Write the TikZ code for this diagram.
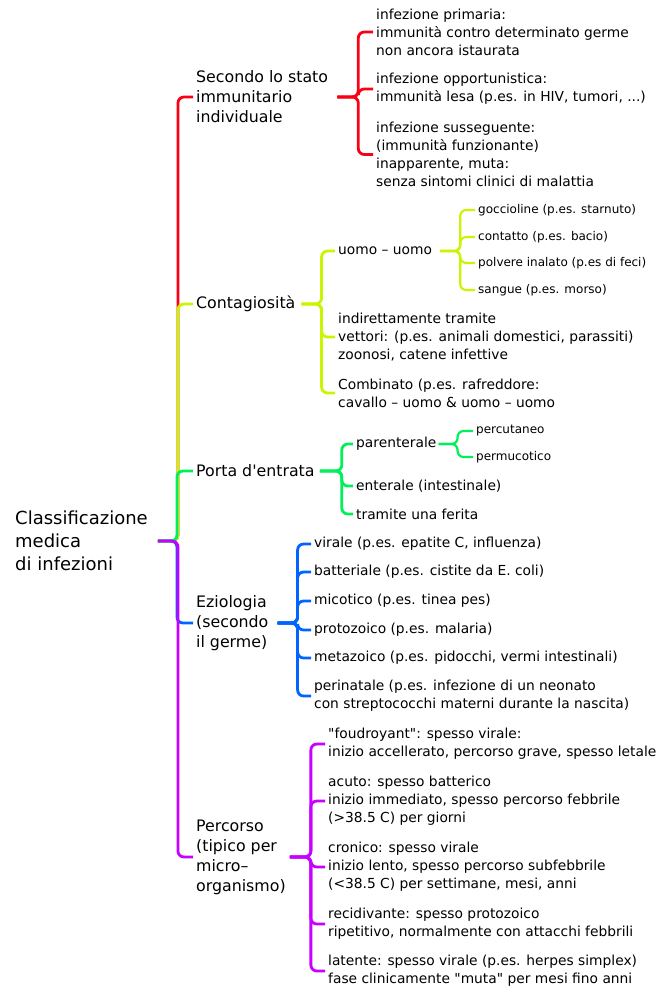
\documentclass[tikz,border=0pt]{standalone}
\usepackage{fontspec}
\setmainfont{DejaVu Sans}[Ligatures=TeXOff]
\definecolor{mmred}{RGB}{250,0,20}
\definecolor{mmyellow}{RGB}{200,245,0}
\definecolor{mmgreen}{RGB}{0,240,90}
\definecolor{mmblue}{RGB}{0,100,255}
\definecolor{mmpurple}{RGB}{200,0,255}

\begin{document}
\begin{tikzpicture}[x=1pt,y=-1pt,
	every node/.style={inner sep=0pt,anchor=west,align=left},
	rootnode/.style={font=\fontsize{18}{23}\selectfont},
	topic/.style={font=\fontsize{15.8}{20}\selectfont},
	subtopic/.style={font=\fontsize{13.8}{18}\selectfont},
	leaf/.style={font=\fontsize{12}{14}\selectfont},
	arc/.style={line width=2.8pt,rounded corners=6pt}]
	
	\useasboundingbox (0,0) rectangle (662,989);
	
	% Draw nodes, main topics
	\node[rootnode] (cls) at (15,541) {Classificazione\\medica\\di infezioni};
	\node[topic] (imm) at (196,97) {Secondo lo stato\\immunitario\\individuale};
	\node[topic] (cont) at (196,304) {Contagiosità};
	\node[topic] (porta) at (196,471) {Porta d'entrata};
	\node[topic] (ezio) at (196,623) {Eziologia\\(secondo\\il germe)};
	\node[topic] (perc) at (196,857) {Percorso\\(tipico per\\micro–\\organismo)};
	
	% Draw nodes, immune state
	\node[subtopic] (prim) at (376,32) {infezione primaria:\\immunità contro determinato germe\\non ancora istaurata};
	\node[subtopic] (opp) at (376,89) {infezione opportunistica:\\immunità lesa (p.es. in HIV, tumori, ...)};
	\node[subtopic] (suss) at (376,154.5) {infezione susseguente:\\(immunità funzionante)\\inapparente, muta:\\senza sintomi clinici di malattia};
	
	% Draw nodes, contagiousness
	\node[subtopic] (uomo) at (338,251) {uomo – uomo};
	\node[subtopic] (indir) at (338,337) {indirettamente tramite\\vettori: (p.es. animali domestici, parassiti)\\zoonosi, catene infettive};
	\node[subtopic] (comb) at (338,393) {Combinato (p.es. rafreddore:\\cavallo – uomo \& uomo – uomo};
	\node[leaf] (gocc) at (478,210) {goccioline (p.es. starnuto)};
	\node[leaf] (bacio) at (478,237) {contatto (p.es. bacio)};
	\node[leaf] (polv) at (478,263) {polvere inalato (p.es di feci)};
	\node[leaf] (sang) at (478,290) {sangue (p.es. morso)};
	
	% Draw nodes, portal of entry
	\node[subtopic] (par) at (356,444) {parenterale};
	\node[subtopic] (ent) at (356,486) {enterale (intestinale)};
	\node[subtopic] (fer) at (356,514) {tramite una ferita};
	\node[leaf] (pcut) at (476,431) {percutaneo};
	\node[leaf] (pmuc) at (476,457) {permucotico};
	
	% Draw nodes, etiology
	\node[subtopic] (vir) at (314,544) {virale (p.es. epatite C, influenza)};
	\node[subtopic] (batt) at (314,572) {batteriale (p.es. cistite da E. coli)};
	\node[subtopic] (mic) at (314,601) {micotico (p.es. tinea pes)};
	\node[subtopic] (proto) at (314,630) {protozoico (p.es. malaria)};
	\node[subtopic] (meta) at (314,658) {metazoico (p.es. pidocchi, vermi intestinali)};
	\node[subtopic] (peri) at (314,696) {perinatale (p.es. infezione di un neonato\\con streptococchi materni durante la nascita)};
	
	% Draw nodes, course
	\node[subtopic] (foud) at (328,744) {"foudroyant": spesso virale:\\inizio accellerato, percorso grave, spesso letale};
	\node[subtopic] (acu) at (328,801) {acuto: spesso batterico\\inizio immediato, spesso percorso febbrile\\(>38.5 C) per giorni};
	\node[subtopic] (cron) at (328,867) {cronico: spesso virale\\inizio lento, spesso percorso subfebbrile\\(<38.5 C) per settimane, mesi, anni};
	\node[subtopic] (recid) at (328,924) {recidivante: spesso protozoico\\ripetitivo, normalmente con attacchi febbrili};
	\node[subtopic] (lat) at (328,971) {latente: spesso virale (p.es. herpes simplex)\\fase clinicamente "muta" per mesi fino anni};
	
	% Draw arcs, from the root to the main topics
	\draw[arc,mmred] ([xshift=10pt]cls.east) -- ++(20,0) |- ([xshift=-3pt]imm.west);
	\draw[arc,mmyellow] ([xshift=10pt]cls.east) -- ++(20,0) |- ([xshift=-3pt]cont.west);
	\draw[arc,mmgreen] ([xshift=10pt]cls.east) -- ++(19,0) |- ([xshift=-3pt]porta.west);
	\draw[arc,mmblue] ([xshift=10pt]cls.east) -- ++(19,0) |- ([xshift=-3pt]ezio.west);
	\draw[arc,mmpurple] ([xshift=10pt]cls.east) -- ++(20,0) |- ([xshift=-3pt]perc.west);
	
	% Draw arcs, from the main topics to their items
	\foreach \c in {prim,opp,suss}
		\draw[arc,mmred] ([xshift=9pt]imm.east) -- ++(21,0) |- ([xshift=-3pt]\c.west);
	\foreach \c in {uomo,indir,comb}
		\draw[arc,mmyellow] ([xshift=6pt]cont.east) -- ++(20,0) |- ([xshift=-3pt]\c.west);
	\foreach \c in {gocc,bacio,polv,sang}
		\draw[arc,mmyellow,line width=2.2pt] ([xshift=8pt]uomo.east) -- ++(20,0) |- ([xshift=-3pt]\c.west);
	\foreach \c in {par,ent,fer}
		\draw[arc,mmgreen] ([xshift=5pt]porta.east) -- ++(22,0) |- ([xshift=-3pt]\c.west);
	\foreach \c in {pcut,pmuc}
		\draw[arc,mmgreen,line width=2.2pt] ([xshift=2pt]par.east) -- ++(19,0) |- ([xshift=-3pt]\c.west);
	\foreach \c in {vir,batt,mic,proto,meta,peri}
		\draw[arc,mmblue] ([xshift=9pt]ezio.east) -- ++(20,0) |- ([xshift=-3pt]\c.west);
	\foreach \c in {foud,acu,cron,recid,lat}
		\draw[arc,mmpurple] ([xshift=4pt]perc.east) -- ++(21,0) |- ([xshift=-3pt]\c.west);
	
\end{tikzpicture}
\end{document}
